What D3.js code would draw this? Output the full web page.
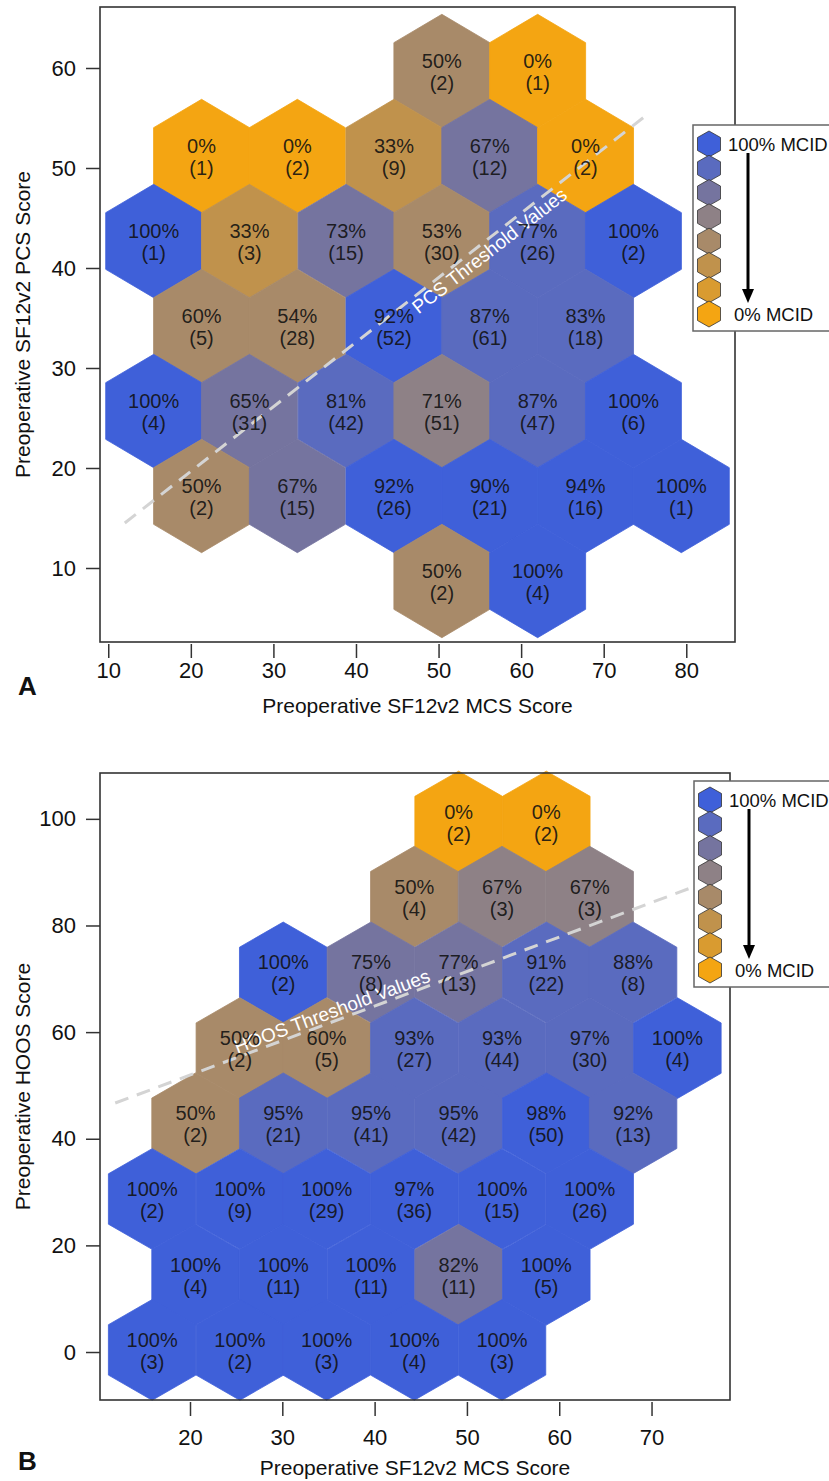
<!DOCTYPE html>
<html>
<head>
<meta charset="utf-8">
<script src="https://cdn.jsdelivr.net/npm/d3@7"></script>
<style>
  body { margin: 0; background: #fff; }
  svg  { display: block; font-family: "Liberation Sans", Arial, Helvetica, sans-serif; }
</style>
</head>
<body>
<svg id="chart" width="829" height="1481"></svg>
<script>
"use strict";

// colour classes, from 100% MCID (blue) down to 0% MCID (orange)
const mcidColors = [ '#3f60d9', '#5a6bbf', '#75749f', '#8e8186', '#a88a69', '#c0924c', '#d99b30', '#f4a512' ];

// panel A: hex centres (MCS, PCS), % reaching MCID, patients, colour class
const mcsA = [ 50.4, 62.0,
               21.3, 32.9, 44.6, 56.2, 67.8,
               15.5, 27.1, 38.8, 50.4, 62.0, 73.6,
               21.3, 32.9, 44.6, 56.2, 67.8,
               15.5, 27.1, 38.8, 50.4, 62.0, 73.6,
               21.3, 32.9, 44.6, 56.2, 67.8, 79.4,
               50.4, 62.0 ];
const pcsA = [ 59.7, 59.7,
               51.2, 51.2, 51.2, 51.2, 51.2,
               42.7, 42.7, 42.7, 42.7, 42.7, 42.7,
               34.2, 34.2, 34.2, 34.2, 34.2,
               25.7, 25.7, 25.7, 25.7, 25.7, 25.7,
               17.2, 17.2, 17.2, 17.2, 17.2, 17.2,
               8.7, 8.7 ];
const pctA = [ 50, 0,  0, 0, 33, 67, 0,  100, 33, 73, 53, 77, 100,  60, 54, 92, 87, 83,
               100, 65, 81, 71, 87, 100,  50, 67, 92, 90, 94, 100,  50, 100 ];
const nA   = [ 2, 1,  1, 2, 9, 12, 2,  1, 3, 15, 30, 26, 2,  5, 28, 52, 61, 18,
               4, 31, 42, 51, 47, 6,  2, 15, 26, 21, 16, 1,  2, 4 ];
const levelA = [ 4, 7,  7, 7, 5, 2, 7,  0, 5, 2, 4, 1, 0,  4, 4, 0, 1, 1,
                 0, 2, 1, 3, 1, 0,  4, 2, 0, 0, 0, 0,  4, 0 ];
const xTicksA = [ 10, 20, 30, 40, 50, 60, 70, 80 ];
const yTicksA = [ 10, 20, 30, 40, 50, 60 ];
const threshMcsA = [ 12.0, 75.2 ];
const threshPcsA = [ 14.5, 55.3 ];

// panel B: hex centres (MCS, HOOS), % reaching MCID, patients, colour class
const mcsB = [ 49.1, 58.6,
               44.3, 53.8, 63.3,
               30.1, 39.6, 49.1, 58.6, 68.0,
               25.4, 34.8, 44.3, 53.8, 63.3, 72.8,
               20.6, 30.1, 39.6, 49.1, 58.6, 68.0,
               15.9, 25.4, 34.8, 44.3, 53.8, 63.3,
               20.6, 30.1, 39.6, 49.1, 58.6,
               15.9, 25.4, 34.8, 44.3, 53.8 ];
const hoosB = [ 99.5, 99.5,
                85.4, 85.4, 85.4,
                71.2, 71.2, 71.2, 71.2, 71.2,
                57.0, 57.0, 57.0, 57.0, 57.0, 57.0,
                42.9, 42.9, 42.9, 42.9, 42.9, 42.9,
                28.7, 28.7, 28.7, 28.7, 28.7, 28.7,
                14.5, 14.5, 14.5, 14.5, 14.5,
                0.4, 0.4, 0.4, 0.4, 0.4 ];
const pctB = [ 0, 0,  50, 67, 67,  100, 75, 77, 91, 88,  50, 60, 93, 93, 97, 100,
               50, 95, 95, 95, 98, 92,  100, 100, 100, 97, 100, 100,
               100, 100, 100, 82, 100,  100, 100, 100, 100, 100 ];
const nB   = [ 2, 2,  4, 3, 3,  2, 8, 13, 22, 8,  2, 5, 27, 44, 30, 4,
               2, 21, 41, 42, 50, 13,  2, 9, 29, 36, 15, 26,
               4, 11, 11, 11, 5,  3, 2, 3, 4, 3 ];
const levelB = [ 7, 7,  4, 3, 3,  0, 2, 2, 1, 1,  4, 4, 1, 1, 1, 0,
                 4, 1, 1, 1, 0, 1,  0, 0, 0, 0, 0, 0,
                 0, 0, 0, 2, 0,  0, 0, 0, 0, 0 ];
const xTicksB = [ 20, 30, 40, 50, 60, 70 ];
const yTicksB = [ 0, 20, 40, 60, 80, 100 ];
const threshMcsB = [ 11.9, 78.5 ];
const threshHoosB = [ 46.7, 89.8 ];


const svg = d3.select( '#chart' );

function drawPanel( p ) {

  const g = svg.append( 'g' ).attr( 'class', 'panel' );

  const x = d3.scaleLinear().domain( p.xDomain ).range( [ p.box.left, p.box.right ] ),
        y = d3.scaleLinear().domain( p.yDomain ).range( [ p.box.bottom, p.box.top ] );

  // hexagon in data units, mapped through the scales
  const hexPath = (cx, cy) => {
    const hw = p.binX / 2, v = p.binY * 2 / 3, s = p.binY / 3;
    const pts = [ [0, v], [hw, s], [hw, -s], [0, -v], [-hw, -s], [-hw, s] ];
    return 'M' + pts.map( d => `${x( cx + d[0] )},${y( cy + d[1] )}` ).join( 'L' ) + 'Z';
  };

  const cells = p.xs.map( (d,i) => ({ x: d, y: p.ys[i], pct: p.pct[i], n: p.n[i], level: p.level[i] }) );

  g.append( 'g' )
     .attr( 'class', 'hexes' )
   .selectAll( 'path' )
     .data( cells )
   .enter().append( 'path' )
     .attr( 'd', d => hexPath( d.x, d.y ) )
     .style( 'fill',   d => mcidColors[ d.level ] )
     .style( 'stroke', d => mcidColors[ d.level ] )
     .style( 'stroke-width', 0.8 );

  // threshold line
  const tl = d3.line().x( d => x( d[0] ) ).y( d => y( d[1] ) );
  const tpts = p.thrX.map( (d,i) => [ d, p.thrY[i] ] );
  g.append( 'path' )
     .attr( 'd', tl( tpts ) )
     .style( 'fill', 'none' )
     .style( 'stroke', '#d4d4d4' )
     .style( 'stroke-width', 3 )
     .style( 'stroke-dasharray', '14,9' );

  const angle = Math.atan2( y( tpts[1][1] ) - y( tpts[0][1] ), x( tpts[1][0] ) - x( tpts[0][0] ) ) * 180 / Math.PI;
  g.append( 'text' )
     .attr( 'transform', `translate(${x( p.thrLabel[0] )},${y( p.thrLabel[1] )}) rotate(${angle})` )
     .attr( 'text-anchor', 'middle' )
     .attr( 'dy', p.thrDy )
     .style( 'font-size', '19px' )
     .style( 'fill', '#fff' )
     .text( p.thrText );

  // labels inside the hexes
  const lab = g.append( 'g' )
                 .attr( 'class', 'labels' )
               .selectAll( 'text' )
                 .data( cells )
               .enter().append( 'text' )
                 .attr( 'x', d => x( d.x ) )
                 .attr( 'y', d => y( d.y ) )
                 .attr( 'text-anchor', 'middle' )
                 .style( 'font-size', '20px' )
                 .style( 'fill', '#111' )
                 .style( 'fill-opacity', 0.9 );
  lab.append( 'tspan' ).attr( 'x', d => x( d.x ) ).attr( 'dy', -3 ).text( d => d.pct + '%' );
  lab.append( 'tspan' ).attr( 'x', d => x( d.x ) ).attr( 'dy', 22 ).text( d => `(${d.n})` );

  // axes
  const ax = g.append( 'g' )
                .attr( 'transform', `translate(0,${p.box.bottom + 2})` )
                .call( d3.axisBottom( x ).tickValues( p.xTicks ).tickSize( 14 ).tickPadding( p.xPad ) );
  const ay = g.append( 'g' )
                .attr( 'transform', `translate(${p.box.left},0)` )
                .call( d3.axisLeft( y ).tickValues( p.yTicks ).tickSize( 14 ).tickPadding( 10 ) );
  [ ax, ay ].forEach( a => {
    a.select( '.domain' ).remove();
    a.selectAll( 'line' ).style( 'stroke', '#333' ).style( 'stroke-width', 1.5 );
    a.selectAll( 'text' ).style( 'font-size', '22px' ).style( 'fill', '#111' ).attr( 'font-family', null );
  });

  // frame
  g.append( 'rect' )
     .attr( 'x', p.box.left )
     .attr( 'y', p.box.top )
     .attr( 'width', p.box.right - p.box.left )
     .attr( 'height', p.box.bottom - p.box.top )
     .style( 'fill', 'none' )
     .style( 'stroke', '#333' )
     .style( 'stroke-width', 1.6 );

  // titles
  g.append( 'text' )
     .attr( 'x', (p.box.left + p.box.right) / 2 )
     .attr( 'y', p.xTitleY )
     .attr( 'text-anchor', 'middle' )
     .style( 'font-size', '21px' )
     .style( 'fill', '#111' )
     .text( p.xTitle );
  g.append( 'text' )
     .attr( 'transform', `translate(30,${(p.box.top + p.box.bottom) / 2}) rotate(-90)` )
     .attr( 'text-anchor', 'middle' )
     .style( 'font-size', '21px' )
     .style( 'fill', '#111' )
     .text( p.yTitle );
  g.append( 'text' )
     .attr( 'x', 18 )
     .attr( 'y', p.letterY )
     .style( 'font-size', '26px' )
     .style( 'font-weight', 'bold' )
     .style( 'fill', '#111' )
     .text( p.letter );

  // legend
  const lg = g.append( 'g' ).attr( 'transform', `translate(${p.legend[0]},${p.legend[1]})` );
  lg.append( 'rect' )
      .attr( 'width', 150 )
      .attr( 'height', 206 )
      .style( 'fill', '#fff' )
      .style( 'stroke', '#666' )
      .style( 'stroke-width', 1.5 );
  const ly = d3.scalePoint().domain( d3.range( mcidColors.length ) ).range( [ 19, 189 ] );
  const lhex = 'M0,-13L11.5,-6.5L11.5,6.5L0,13L-11.5,6.5L-11.5,-6.5Z';
  lg.selectAll( 'path.key' )
      .data( mcidColors )
    .enter().append( 'path' )
      .attr( 'class', 'key' )
      .attr( 'd', lhex )
      .attr( 'transform', (d,i) => `translate(16,${ly( i )})` )
      .style( 'fill', d => d )
      .style( 'stroke', '#333' )
      .style( 'stroke-width', 0.8 );
  lg.append( 'text' )
      .attr( 'x', 35 ).attr( 'y', ly( 0 ) ).attr( 'dy', '0.36em' )
      .style( 'font-size', '18.5px' ).style( 'fill', '#111' )
      .text( '100% MCID' );
  lg.append( 'text' )
      .attr( 'x', 41 ).attr( 'y', ly( mcidColors.length - 1 ) ).attr( 'dy', '0.36em' )
      .style( 'font-size', '18.5px' ).style( 'fill', '#111' )
      .text( '0% MCID' );
  lg.append( 'line' )
      .attr( 'x1', 55 ).attr( 'x2', 55 )
      .attr( 'y1', 28 ).attr( 'y2', 166 )
      .style( 'stroke', '#000' )
      .style( 'stroke-width', 3 );
  lg.append( 'path' )
      .attr( 'd', 'M49,164L61,164L55,178Z' )
      .style( 'fill', '#000' );
}

drawPanel({
  letter: 'A', letterY: 695,
  box: { left: 100, top: 7, right: 735, bottom: 642 },
  xDomain: [ 9.0, 85.9 ], yDomain: [ 2.6, 66.1 ],
  binX: 11.62, binY: 8.5,
  xs: mcsA, ys: pcsA, pct: pctA, n: nA, level: levelA,
  xTicks: xTicksA, yTicks: yTicksA, xPad: 4,
  thrX: threshMcsA, thrY: threshPcsA,
  thrLabel: [ 56.2, 41.7 ], thrDy: 6, thrText: 'PCS Threshold Values',
  xTitle: 'Preoperative SF12v2 MCS Score', xTitleY: 713,
  yTitle: 'Preoperative SF12v2 PCS Score',
  legend: [ 693, 125 ]
});

drawPanel({
  letter: 'B', letterY: 1470,
  box: { left: 100, top: 773, right: 730, bottom: 1400 },
  xDomain: [ 10.25, 78.5 ], yDomain: [ -9.0, 108.6 ],
  binX: 9.48, binY: 14.17,
  xs: mcsB, ys: hoosB, pct: pctB, n: nB, level: levelB,
  xTicks: xTicksB, yTicks: yTicksB, xPad: 13,
  thrX: threshMcsB, thrY: threshHoosB,
  thrLabel: [ 35.4, 63.8 ], thrDy: 6, thrText: 'HOOS Threshold Values',
  xTitle: 'Preoperative SF12v2 MCS Score', xTitleY: 1475,
  yTitle: 'Preoperative HOOS Score',
  legend: [ 694, 781 ]
});
</script>
</body>
</html>
